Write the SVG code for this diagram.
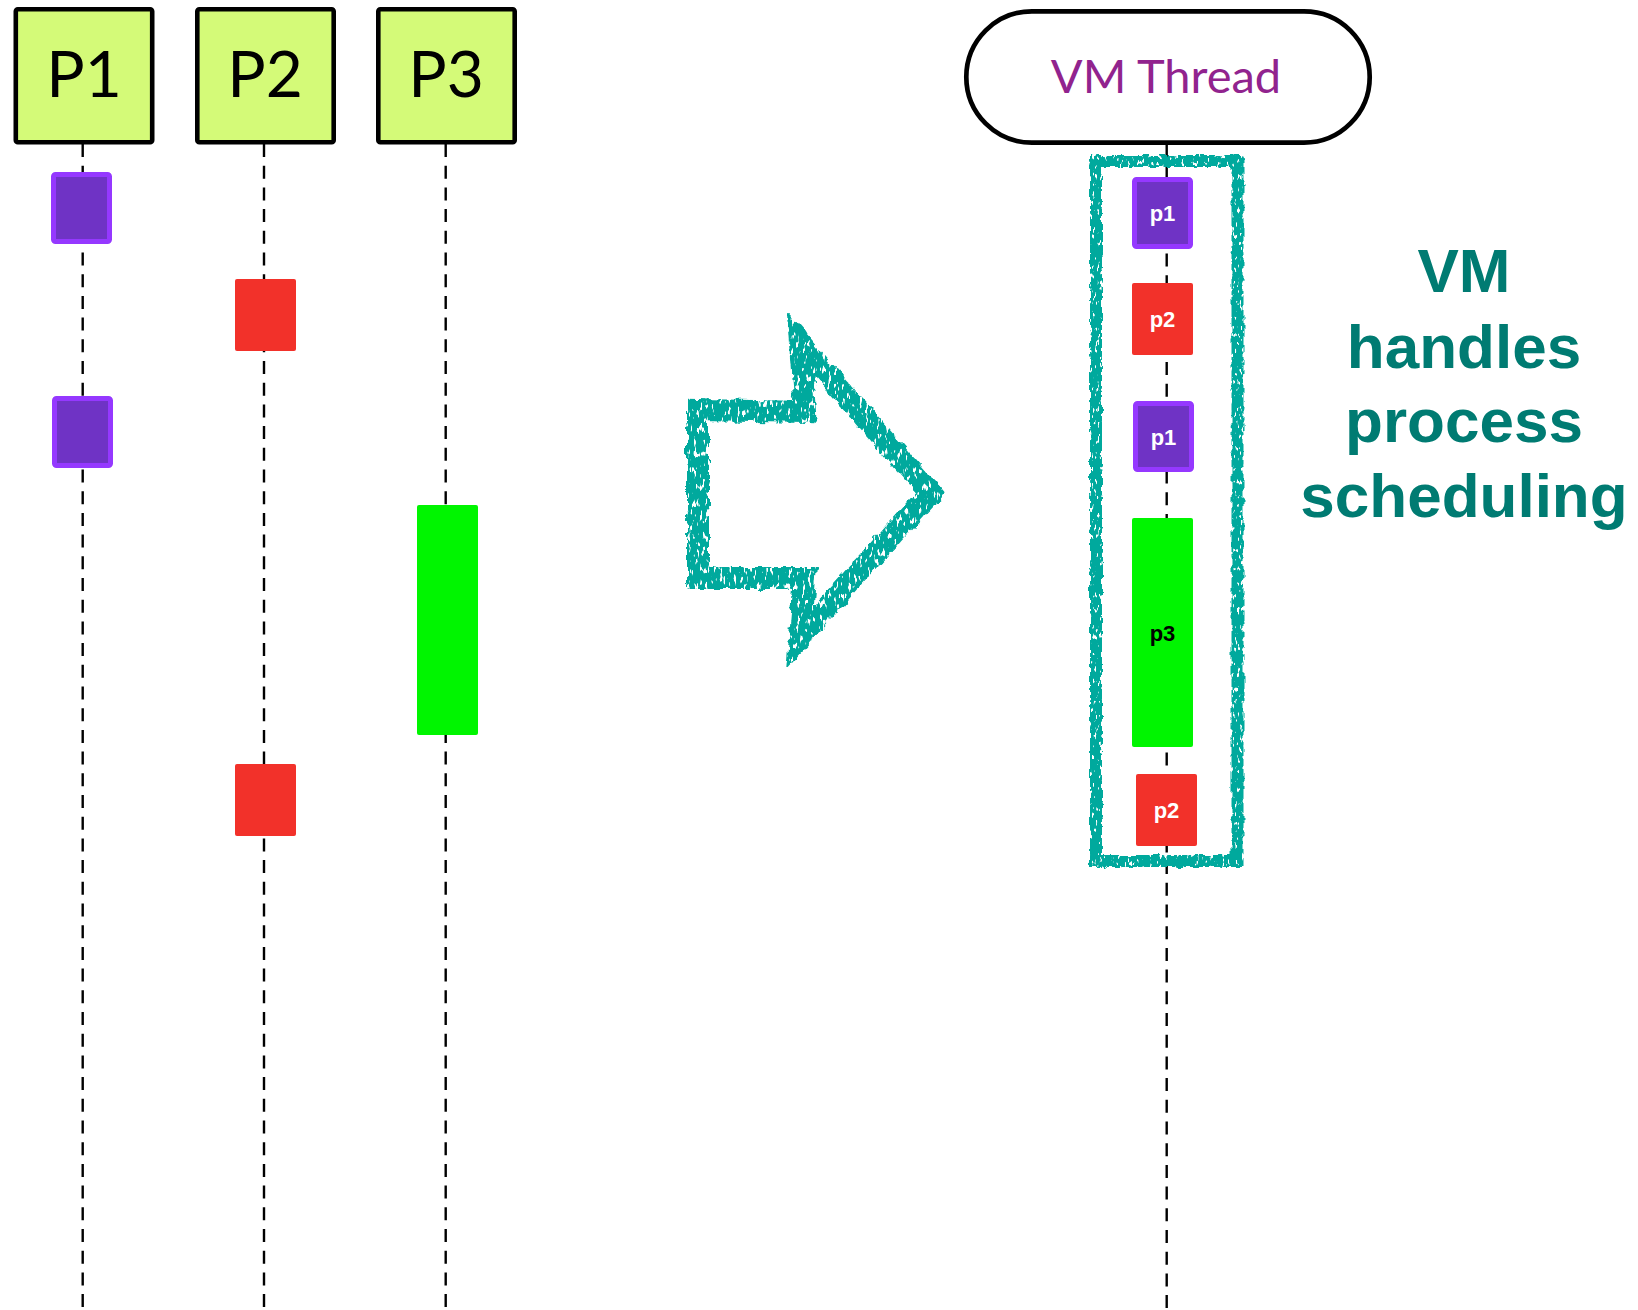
<svg xmlns="http://www.w3.org/2000/svg" width="1638" height="1310" viewBox="0 0 1638 1310">
<style>
.proc{fill:#d4fa78;stroke:#000;stroke-width:4.6}
.plabel{font-family:Lato,"Open Sans","DejaVu Sans",sans-serif;font-size:64px;fill:#000;text-anchor:middle}
.life{stroke:#000;stroke-width:2.4;stroke-dasharray:13 8.7;fill:none}
.purple{fill:#6f33c5;stroke:#9538ff;stroke-width:5}
.red{fill:#f2312a}
.green{fill:#00f500}
.lbl{font-family:"Liberation Sans",Arial,sans-serif;font-weight:bold;font-size:22px;text-anchor:middle;fill:#fff}
.lblk{fill:#000}
.teal{fill:none;stroke:#00a99d}
.big{font-family:"Liberation Sans",Arial,sans-serif;font-weight:bold;font-size:62px;fill:#007b72;text-anchor:middle}
</style>
<defs>
<filter id="rough" x="-10%" y="-5%" width="120%" height="110%">
<feTurbulence type="fractalNoise" baseFrequency="0.12" numOctaves="2" seed="4" result="n"/>
<feDisplacementMap in="SourceGraphic" in2="n" scale="6" xChannelSelector="R" yChannelSelector="G" result="d"/>
<feTurbulence type="fractalNoise" baseFrequency="0.4 0.15" numOctaves="2" seed="2" result="s"/>
<feColorMatrix in="s" type="matrix" values="0 0 0 0 0  0 0 0 0 0  0 0 0 0 0  12 0 0 0 -7.6" result="m"/>
<feComposite in="d" in2="m" operator="out"/>
</filter>
<filter id="rough2" x="-10%" y="-10%" width="120%" height="120%">
<feTurbulence type="fractalNoise" baseFrequency="0.09" numOctaves="3" seed="7" result="n"/>
<feDisplacementMap in="SourceGraphic" in2="n" scale="9" xChannelSelector="R" yChannelSelector="G" result="d"/>
<feTurbulence type="fractalNoise" baseFrequency="0.35 0.12" numOctaves="2" seed="2" result="s"/>
<feColorMatrix in="s" type="matrix" values="0 0 0 0 0  0 0 0 0 0  0 0 0 0 0  12 0 0 0 -7.3" result="m"/>
<feComposite in="d" in2="m" operator="out"/>
</filter>
</defs>
<rect width="1638" height="1310" fill="#fff"/>

<g id="connectors">
<line class="life" x1="82.7" y1="144" x2="82.7" y2="1310"/>
<line class="life" x1="264" y1="144" x2="264" y2="1310"/>
<line class="life" x1="445.7" y1="144" x2="445.7" y2="1310"/>
<line class="life" x1="1166.7" y1="145" x2="1166.7" y2="1310"/>
</g>

<g id="P1"><rect class="proc" x="15.8" y="9.2" width="136.4" height="133" rx="2"/><text class="plabel" x="84" y="97">P1</text></g>
<g id="P2"><rect class="proc" x="197.3" y="9.2" width="136.4" height="133" rx="2"/><text class="plabel" x="265" y="97">P2</text></g>
<g id="P3"><rect class="proc" x="378.3" y="9.2" width="136.4" height="133" rx="2"/><text class="plabel" x="446" y="97">P3</text></g>

<g id="P1-run1"><rect class="purple" x="53.5" y="174.5" width="56" height="67" rx="2"/></g>
<g id="P2-run1"><rect class="red" x="235" y="279" width="61" height="72" rx="2"/></g>
<g id="P1-run2"><rect class="purple" x="54.5" y="398.5" width="56" height="67" rx="2"/></g>
<g id="P3-run1"><rect class="green" x="417" y="505" width="61" height="230" rx="2"/></g>
<g id="P2-run2"><rect class="red" x="235" y="764" width="61" height="72" rx="2"/></g>

<g id="arrow">
<path d="M698 410 L805 412 L800 343 L930 493 L800 637 L805 578 L698 578 Z" fill="none" stroke="#00a99d" stroke-width="22" stroke-linejoin="miter" stroke-miterlimit="6" filter="url(#rough2)"/>
</g>

<g id="VMThread">
<rect x="966.3" y="11.3" width="403.4" height="131.4" rx="65.7" fill="#fff" stroke="#000" stroke-width="4.7"/>
<text x="1166" y="93" font-family="Lato,'Open Sans','DejaVu Sans',sans-serif" font-size="47" fill="#91238e" text-anchor="middle">VM Thread</text>
</g>

<g id="vm-p1a"><rect class="purple" x="1134.5" y="179.5" width="56" height="67" rx="2"/><text class="lbl" x="1162.5" y="221">p1</text></g>
<g id="vm-p2a"><rect class="red" x="1132" y="283" width="61" height="72" rx="2"/><text class="lbl" x="1162.5" y="327">p2</text></g>
<g id="vm-p1b"><rect class="purple" x="1135.5" y="403.5" width="56" height="66" rx="2"/><text class="lbl" x="1163.5" y="444.5">p1</text></g>
<g id="vm-p3"><rect class="green" x="1132" y="518" width="61" height="229" rx="2"/><text class="lbl lblk" x="1162.5" y="641">p3</text></g>
<g id="vm-p2b"><rect class="red" x="1136" y="774" width="61" height="72" rx="2"/><text class="lbl" x="1166.5" y="818">p2</text></g>

<g id="vm-schedule-box">
<rect class="teal" x="1096" y="161" width="141.5" height="700" stroke-width="12" filter="url(#rough)"/>
</g>

<g id="caption">
<text class="big" x="1464" y="292">VM</text>
<text class="big" x="1464" y="368">handles</text>
<text class="big" x="1464" y="442">process</text>
<text class="big" x="1464" y="517">scheduling</text>
</g>
</svg>
